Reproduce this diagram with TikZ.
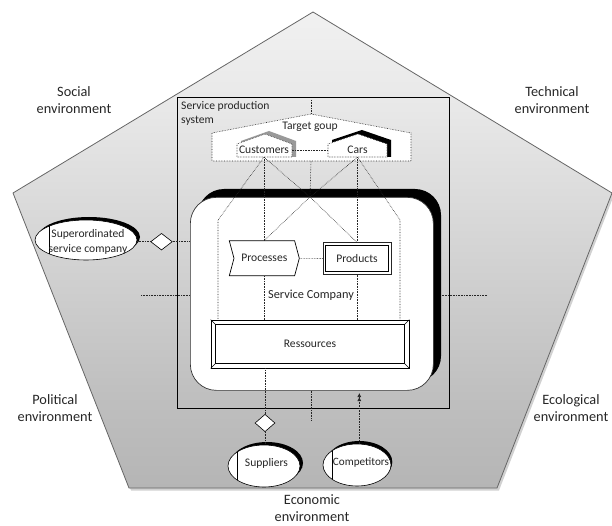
\documentclass[tikz,border=0pt]{standalone}
\usepackage{fontspec}
\setmainfont{Carlito}
\usetikzlibrary{shapes.symbols,shapes.geometric,arrows.meta,calc}

% light at the top, darker towards the bottom
\pgfdeclareverticalshading{envshade}{100bp}{color(0bp)=(black!39); color(35bp)=(black!25); color(65bp)=(black!9); color(85bp)=(black!2); color(100bp)=(white)}

\begin{document}
\begin{tikzpicture}[x=1pt,y=-1pt,
  conn/.style={densely dotted, line width=0.6pt, black!85},
  envlabel/.style={align=center, font=\fontsize{14.3}{16.8}\selectfont, text=black!85, inner sep=0pt},
  lbl/.style={font=\fontsize{11.6}{14.3}\selectfont, text=black!85, inner sep=0pt},
  housebox/.style={fill=white, draw=black!85, densely dotted, line width=0.6pt},
  oval/.style={ellipse, draw=black, line width=0.6pt, fill=white, inner sep=0pt},
  gate/.style={diamond, draw=black, line width=0.6pt, fill=white, inner sep=0pt}]
\useasboundingbox (0,0) rectangle (612,526);

% environment pentagon with a soft shadow
\fill[black!18] (315,14) -- (614,195) -- (499,490.5) -- (131,490.5) -- (15,195) -- cycle;
\coordinate (pT) at (313,12);
\coordinate (pR) at (612,193);
\coordinate (pBR) at (497,488);
\coordinate (pBL) at (129,488);
\coordinate (pL) at (13,193);
\shade[shading=envshade, draw=black!60, line width=0.8pt] (pT) -- (pR) -- (pBR) -- (pBL) -- (pL) -- cycle;

% environment labels
\node[envlabel] (social) at (74,100) {Social\\environment};
\node[envlabel] (technical) at (552,100) {Technical\\environment};
\node[envlabel] (political) at (55,408) {Political\\environment};
\node[envlabel] (ecological) at (571,408) {Ecological\\environment};
\node[envlabel] (economic) at (312,508) {Economic\\environment};

% service production system frame
\node[draw=black, line width=0.8pt, minimum width=272pt, minimum height=311pt, inner sep=0pt, anchor=north west] (sps) at (177,97) {};
\node[lbl, align=left, anchor=north west] (spst) at (181,101) {Service production\\system};

% service company box with heavy shadow
\fill[black, rounded corners=26pt] (198,189) rectangle (441,382);
\node[draw=black!80, fill=white, rounded corners=26pt, line width=0.7pt, minimum width=243pt, minimum height=193pt, inner sep=0pt, anchor=north west] (sc) at (190,197) {};
\node[lbl, font=\fontsize{12.3}{14}\selectfont] (sct) at (311,295) {Service Company};

% target group
\filldraw[housebox] (212,161) -- (212,133) -- (311,114) -- (411,133) -- (411,161) -- cycle;
\node[lbl] (tg) at (310,127) {Target goup};
\coordinate (tgtop) at (311,114);
\coordinate (tgup) at (311,100);
\coordinate (tgbot) at (311,161);
\draw[conn] (tgup) -- (tgtop);

% customers
\fill[black!40] (241,157) -- (241,141) -- (269,131) -- (296,141) -- (296,157) -- cycle;
\filldraw[housebox] (237,157) -- (237,144) -- (265,134) -- (292,144) -- (292,157) -- cycle;
\node[lbl, minimum width=55pt, minimum height=14pt] (cust) at (264,150) {Customers};

% cars
\fill[black] (332,157) -- (332,140) -- (362,130) -- (391,140) -- (391,157) -- cycle;
\filldraw[housebox] (328,157) -- (328,144) -- (358,134) -- (387,144) -- (387,157) -- cycle;
\node[lbl, minimum width=59pt, minimum height=14pt] (cars) at (357.5,150) {Cars};
\draw[conn] (cust.east) -- (cars.west);

% processes and products
\node[signal, signal from=west, signal to=east, signal pointer angle=150, draw=black, fill=white, line width=0.7pt, minimum width=70pt, minimum height=35pt, lbl] (proc) at (264.3,258.3) {Processes};
\node[draw=black!85, fill=white, line width=1pt, minimum width=68pt, minimum height=31pt, lbl] (prod) at (357,258.5) {Products};
\draw[line width=0.6pt] ($(prod.north west)+(3,3)$) rectangle ($(prod.south east)+(-3,-3)$);
\draw[conn] (proc.east) -- (prod.west);

% resources, a bevelled frame
\node[draw=black, line width=0.7pt, fill=white, minimum width=198pt, minimum height=48pt, lbl] (res) at (310,344) {Ressources};
\draw[line width=0.9pt] ($(res.north west)+(5,5)$) rectangle ($(res.south east)+(-5,-5)$);
\draw[line width=0.5pt] (res.north west) -- +(5,5) (res.north east) -- +(-5,5)
  (res.south west) -- +(5,-5) (res.south east) -- +(-5,-5);

% links inside the service company
\coordinate (hub) at (310,197);
\coordinate (cl) at (218,220);
\coordinate (cr) at (400,220);
\draw[conn] (cust.south) -- (cl) -- (cl |- res.north);
\draw[conn] (cust.south) -- (cust.south |- proc.north);
\draw[conn] (cust.south) -- (hub);
\draw[conn] (cars.south) -- (hub);
\draw[conn] (cars.south) -- (cars.south |- prod.north);
\draw[conn] (cars.south) -- (cr) -- (cr |- res.north);
\draw[conn] (tgbot) -- (hub);
\draw[conn] (hub) -- (proc.north);
\draw[conn] (hub) -- (prod.north);
\draw[conn] (proc.south) -- (proc.south |- res.north);
\draw[conn] (prod.south) -- (prod.south |- res.north);

% side markers
\coordinate (hl) at (141,295);
\coordinate (hr) at (487,295);
\draw[conn] (hl) -- (hl -| sc.west);
\draw[conn] (hr) -- ($(hr -| sc.east)+(8,0)$);
\coordinate (bc) at (311,421);
\draw[conn] (bc |- sc.south) -- (bc);

% superordinated service company
\fill[black] (89,237) ellipse [x radius=51, y radius=20];
\node[oval, minimum width=102pt, minimum height=40pt] (supo) at (86,240) {};
\begin{scope}
  \clip (86,240) ellipse [x radius=51, y radius=20];
  \draw[line width=0.6pt] (49.3,215) -- (49.3,265);
\end{scope}
\node[lbl, align=center] (supot) at (88,242) {Superordinated\\service company};
\node[gate, minimum width=21.6pt, minimum height=16.7pt] (dsupo) at (161.5,241.7) {};
\draw[conn] (dsupo.west) -- (dsupo.west -| supo.east);
\draw[conn] (dsupo.east) -- (dsupo.east -| sc.west);

% suppliers
\fill[black] (267,463) ellipse [x radius=36, y radius=21];
\node[oval, minimum width=72pt, minimum height=42pt] (sup) at (264,466) {};
\begin{scope}
  \clip (264,466) ellipse [x radius=36, y radius=21];
  \draw[line width=0.6pt] (237.3,440) -- (237.3,492);
\end{scope}
\node[lbl] (supt) at (266.5,463) {Suppliers};
\node[gate, minimum width=20pt, minimum height=17.4pt] (dsup) at (265,423) {};
\draw[conn] (res.south -| dsup) -- (dsup.north);
\draw[conn] (dsup.south) -- (sup.north -| dsup);

% competitors
\fill[black] (359.3,462) ellipse [x radius=33, y radius=21];
\node[oval, minimum width=68pt, minimum height=42pt] (comp) at (357,465) {};
\begin{scope}
  \clip (357,465) ellipse [x radius=34, y radius=21];
  \draw[line width=0.6pt] (332.7,440) -- (332.7,492);
\end{scope}
\node[lbl, font=\fontsize{11.2}{13}\selectfont] (compt) at (361,463) {Competitors};
\coordinate (arrtop) at (359.3,393);
\draw[conn, -{Latex[length=4pt,width=4pt] Latex[length=4pt,width=4pt]}] (arrtop |- comp.north) -- (arrtop);
\end{tikzpicture}
\end{document}
